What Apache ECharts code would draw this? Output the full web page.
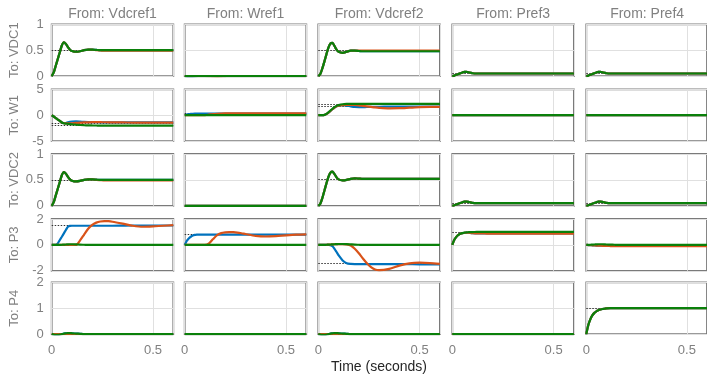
<!DOCTYPE html>
<html>
<head>
<meta charset="utf-8">
<script src="https://cdn.jsdelivr.net/npm/echarts@6/dist/echarts.min.js"></script>
<style>
  html, body { margin: 0; padding: 0; background: #ffffff; }
  #chart { width: 707px; height: 375px; }
</style>
</head>
<body>
<div id="chart"></div>
<script>
// Sample times (seconds)
const T = [0, 0.01, 0.02, 0.03, 0.04, 0.05, 0.06, 0.07, 0.08, 0.09, 0.10,
           0.12, 0.14, 0.16, 0.18, 0.20, 0.22, 0.24, 0.26, 0.28, 0.30,
           0.35, 0.40, 0.45, 0.50, 0.55, 0.60];

const inputNames  = ['Vdcref1', 'Wref1', 'Vdcref2', 'Pref3', 'Pref4'];
const outputNames = ['VDC1', 'W1', 'VDC2', 'P3', 'P4'];

const xTickStep = 0.5;
const xMax = 0.6;
const yMin  = [0, -5, 0, -2, 0];
const yMax  = [1,  5, 1,  2, 2];
const yStep = [0.5, 5, 0.5, 2, 1];

// ---- step responses ----
const zero = [0,0,0,0,0,0,0,0,0,0,0, 0,0,0,0,0,0,0,0,0,0, 0,0,0,0,0,0];

const vdc1_g = [0,0.07,0.2,0.33,0.46,0.59,0.65,0.62,0.56,0.51,0.485, 0.47,0.48,0.50,0.51,0.51,0.505,0.50,0.50,0.50,0.50, 0.50,0.50,0.50,0.50,0.50,0.50];
const vdc1_o = [0,0.07,0.2,0.33,0.46,0.59,0.65,0.62,0.56,0.51,0.485, 0.47,0.48,0.50,0.51,0.51,0.50,0.495,0.49,0.49,0.49, 0.49,0.49,0.49,0.49,0.49,0.49];

const w1ref_b = [0,-0.01,-0.02,-0.02,-0.015,-0.01,-0.005,0,0,0,0, 0,0,0,0,0,0,0,0,0,0, 0,0,0,0,0,0];
const w1ref_o = [0,0,0,0,0,0,0,0,0,0,0, -0.005,-0.012,-0.015,-0.01,-0.005,0,0,0,0,0, 0,0,0,0,0,0];

const vdc2x1_g = [0,0.04,0.15,0.28,0.42,0.55,0.63,0.64,0.58,0.51,0.47, 0.45,0.47,0.49,0.49,0.485,0.48,0.48,0.48,0.48,0.48, 0.48,0.48,0.48,0.48,0.48,0.48];
const vdc2x1_o = [0,0.04,0.15,0.28,0.42,0.55,0.63,0.64,0.58,0.51,0.47, 0.45,0.47,0.49,0.49,0.49,0.49,0.49,0.49,0.49,0.49, 0.49,0.49,0.49,0.49,0.49,0.49];

const pBump = [0,0.01,0.025,0.04,0.055,0.07,0.08,0.08,0.075,0.065,0.055, 0.05,0.05,0.05,0.05,0.05,0.05,0.05,0.05,0.05,0.05, 0.05,0.05,0.05,0.05,0.05,0.05];

const w1vdc_g = [0,-0.25,-0.55,-0.85,-1.12,-1.4,-1.55,-1.62,-1.67,-1.72,-1.76, -1.83,-1.89,-1.93,-1.96,-1.98,-1.99,-2,-2,-2,-2, -2,-2,-2,-2,-2,-2];
const w1vdc_b = [0,-0.25,-0.55,-0.85,-1.12,-1.4,-1.55,-1.5,-1.38,-1.28,-1.22, -1.2,-1.24,-1.3,-1.33,-1.35,-1.36,-1.37,-1.38,-1.38,-1.38, -1.38,-1.38,-1.38,-1.38,-1.38,-1.38];
const w1vdc_o = [0,-0.25,-0.55,-0.85,-1.12,-1.4,-1.55,-1.58,-1.58,-1.57,-1.55, -1.5,-1.45,-1.4,-1.37,-1.35,-1.35,-1.35,-1.36,-1.37,-1.38, -1.4,-1.42,-1.42,-1.42,-1.42,-1.42];

const w1w_b = [0,0.12,0.2,0.25,0.28,0.3,0.31,0.32,0.32,0.32,0.32, 0.32,0.32,0.32,0.32,0.32,0.32,0.32,0.32,0.32,0.32, 0.32,0.32,0.32,0.32,0.32,0.32];
const w1w_o = [0,0,0,0,0,0,0,0,0,0,0.02, 0.12,0.22,0.28,0.32,0.34,0.35,0.36,0.36,0.36,0.36, 0.36,0.36,0.36,0.36,0.36,0.36];

const w1v2_g = [0,0,0,0.06,0.25,0.55,0.9,1.25,1.55,1.8,1.95, 2.12,2.18,2.2,2.2,2.2,2.2,2.2,2.2,2.2,2.2, 2.2,2.2,2.2,2.2,2.2,2.2];
const w1v2_b = [0,0,0,0.05,0.22,0.5,0.82,1.15,1.45,1.7,1.85, 1.95,1.85,1.7,1.58,1.55,1.56,1.58,1.6,1.62,1.63, 1.65,1.65,1.65,1.65,1.65,1.65];
const w1v2_o = [0,0,0,0.05,0.22,0.5,0.82,1.15,1.45,1.7,1.85, 1.95,2.0,2.0,1.97,1.9,1.8,1.7,1.6,1.5,1.42, 1.32,1.35,1.45,1.55,1.6,1.6];

const vdc2x2_g = [0,0.04,0.15,0.29,0.43,0.56,0.64,0.66,0.61,0.55,0.51, 0.49,0.5,0.52,0.53,0.525,0.52,0.52,0.52,0.52,0.52, 0.52,0.52,0.52,0.52,0.52,0.52];

const p3v1_b = [0,0,0,0.12,0.38,0.63,0.89,1.15,1.4,1.47,1.48, 1.48,1.48,1.48,1.48,1.48,1.48,1.48,1.48,1.48,1.48, 1.49,1.5,1.5,1.5,1.5,1.5];
const p3v1_o = [0,0,0,0,0,0,0,0,0,0,0, 0,0.35,0.8,1.25,1.55,1.72,1.81,1.84,1.83,1.79, 1.64,1.48,1.4,1.43,1.48,1.52];
const p3v1_g = [0,0,0,0,0,0.01,0.02,0.03,0.04,0.05,0.05, 0.04,0.02,0.01,0,0,0,0,0,0,0, 0,0,0,0,0,0];

const p3w_b = [0,0.3,0.5,0.63,0.72,0.77,0.79,0.8,0.8,0.8,0.8, 0.8,0.8,0.8,0.8,0.8,0.8,0.8,0.8,0.8,0.8, 0.8,0.8,0.8,0.8,0.8,0.8];
const p3w_o = [0,0,0,0,0,0,0,0,0,0,0, 0.12,0.45,0.75,0.91,0.97,0.99,0.98,0.95,0.9,0.84, 0.7,0.65,0.68,0.74,0.79,0.81];

const p3v2_b = [0,0,0,0,0,0,-0.02,-0.1,-0.3,-0.55,-0.8, -1.2,-1.42,-1.47,-1.48,-1.48,-1.48,-1.48,-1.48,-1.48,-1.48, -1.48,-1.48,-1.49,-1.5,-1.5,-1.5];
const p3v2_o = [0,0,0,0,0.01,0.02,0.03,0.04,0.05,0.06,0.06, 0.06,0.04,-0.05,-0.3,-0.65,-1.05,-1.42,-1.72,-1.9,-1.95, -1.85,-1.6,-1.42,-1.37,-1.4,-1.47];
const p3v2_g = [0,0,0,0,0.01,0.02,0.03,0.04,0.05,0.06,0.07, 0.07,0.06,0.04,0.02,0.01,0,0,0,0,0, 0,0,0,0,0,0];

const p3p3_g = [0,0.4,0.62,0.77,0.86,0.91,0.95,0.97,0.98,0.99,0.99, 1.0,1.0,1.0,1.0,1.0,1.0,1.0,1.0,1.0,1.0, 1.0,1.0,1.0,1.0,1.0,1.0];
const p3p3_b = [0,0.4,0.62,0.77,0.86,0.91,0.94,0.95,0.94,0.92,0.9, 0.88,0.88,0.88,0.88,0.88,0.88,0.88,0.88,0.88,0.88, 0.88,0.88,0.88,0.88,0.88,0.88];
const p3p3_o = [0,0.4,0.62,0.77,0.86,0.91,0.94,0.95,0.94,0.92,0.9, 0.89,0.88,0.88,0.87,0.87,0.87,0.87,0.87,0.87,0.87, 0.87,0.87,0.87,0.87,0.87,0.87];

const p3p4_g = [0,0,0.01,0.02,0.03,0.04,0.05,0.05,0.05,0.04,0.03, 0.02,0.01,0,0,0,0,0,0,0,0, 0,0,0,0,0,0];
const p3p4_b = [0,-0.01,-0.02,-0.03,-0.04,-0.05,-0.05,-0.05,-0.06,-0.06,-0.06, -0.07,-0.08,-0.08,-0.08,-0.08,-0.08,-0.08,-0.08,-0.08,-0.08, -0.08,-0.08,-0.08,-0.08,-0.08,-0.08];
const p3p4_o = [0,-0.01,-0.02,-0.03,-0.04,-0.05,-0.05,-0.06,-0.07,-0.08,-0.08, -0.09,-0.1,-0.1,-0.1,-0.1,-0.1,-0.1,-0.1,-0.1,-0.1, -0.1,-0.1,-0.1,-0.1,-0.1,-0.1];

const p4wiggle = [0,-0.02,-0.03,-0.03,-0.02,0,0.02,0.03,0.04,0.04,0.03, 0.02,0.01,0,0,0,0,0,0,0,0, 0,0,0,0,0,0];
const p4p4_g = [0,0.35,0.57,0.72,0.82,0.88,0.92,0.95,0.97,0.98,0.99, 1.0,1.0,1.0,1.0,1.0,1.0,1.0,1.0,1.0,1.0, 1.0,1.0,1.0,1.0,1.0,1.0];

// [output][input] -> blue, orange, green responses and steady-state levels
const cells = [
  [ {b: vdc1_g, o: vdc1_o, g: vdc1_g, ss: [0.5]},
    {b: w1ref_b, o: w1ref_o, g: zero, ss: []},
    {b: vdc2x1_g, o: vdc2x1_o, g: vdc2x1_g, ss: [0.49]},
    {b: pBump, o: pBump, g: pBump, ss: [0.05]},
    {b: pBump, o: pBump, g: pBump, ss: [0.05]} ],
  [ {b: w1vdc_b, o: w1vdc_o, g: w1vdc_g, ss: [-1.6, -2.0]},
    {b: w1w_b, o: w1w_o, g: zero, ss: [0.32]},
    {b: w1v2_b, o: w1v2_o, g: w1v2_g, ss: [1.65, 2.2]},
    {b: zero, o: zero, g: zero, ss: []},
    {b: zero, o: zero, g: zero, ss: []} ],
  [ {b: vdc1_g, o: vdc1_o, g: vdc1_g, ss: [0.5]},
    {b: zero, o: zero, g: zero, ss: []},
    {b: vdc2x2_g, o: vdc2x2_g, g: vdc2x2_g, ss: [0.51]},
    {b: pBump, o: pBump, g: pBump, ss: [0.05]},
    {b: pBump, o: pBump, g: pBump, ss: [0.05]} ],
  [ {b: p3v1_b, o: p3v1_o, g: p3v1_g, ss: [1.55]},
    {b: p3w_b, o: p3w_o, g: zero, ss: [0.8]},
    {b: p3v2_b, o: p3v2_o, g: p3v2_g, ss: [-1.45]},
    {b: p3p3_b, o: p3p3_o, g: p3p3_g, ss: [0.96]},
    {b: p3p4_b, o: p3p4_o, g: p3p4_g, ss: [-0.05]} ],
  [ {b: p4wiggle, o: zero, g: p4wiggle, ss: []},
    {b: zero, o: zero, g: zero, ss: []},
    {b: p4wiggle, o: zero, g: p4wiggle, ss: []},
    {b: zero, o: zero, g: zero, ss: []},
    {b: p4p4_g, o: p4p4_g, g: p4p4_g, ss: [1.0]} ]
];

// ---- layout ----
const colLeft = [51.7, 184.7, 318.3, 452.3, 586.3];
const rowTop  = [24.3, 89.3, 154, 219, 282.3];
const cellW = 121.6, cellH = 51.8;

const FONT = '"Liberation Sans", Arial, Helvetica, sans-serif';
const tickColor = '#808080';
const colors = { b: '#0072BD', o: '#D95319', g: '#0a800a' };

const grid = [], xAxis = [], yAxis = [], series = [], graphic = [];

for (let r = 0; r < 5; r++) {
  for (let c = 0; c < 5; c++) {
    const k = r * 5 + c;
    grid.push({
      left: colLeft[c], top: rowTop[r], width: cellW, height: cellH,
      show: true, borderColor: '#7a7a7a', borderWidth: 1.8,
      backgroundColor: 'transparent'
    });
    xAxis.push({
      type: 'value', gridIndex: k, min: 0, max: xMax, interval: xTickStep,
      axisLine: { show: false }, axisTick: { show: false },
      axisLabel: {
        show: r === 4, showMaxLabel: false, margin: 10,
        color: tickColor, fontSize: 13, fontFamily: FONT
      },
      splitLine: { show: true, lineStyle: { color: '#e0e0e0', width: 1 } }
    });
    yAxis.push({
      type: 'value', gridIndex: k, min: yMin[r], max: yMax[r], interval: yStep[r],
      axisLine: { show: false }, axisTick: { show: false },
      axisLabel: {
        show: c === 0, margin: 8,
        color: tickColor, fontSize: 13, fontFamily: FONT
      },
      splitLine: { show: true, lineStyle: { color: '#e0e0e0', width: 1 } }
    });

    const cell = cells[r][c];
    ['b', 'o', 'g'].forEach((key, idx) => {
      const s = {
        type: 'line', xAxisIndex: k, yAxisIndex: k,
        data: T.map((t, i) => [t, cell[key][i]]),
        showSymbol: false, smooth: 0.25, z: 3 + idx,
        lineStyle: { color: colors[key], width: 2.2 },
        itemStyle: { color: colors[key] },
        silent: true, animation: false
      };
      if (idx === 0 && cell.ss.length) {
        s.markLine = {
          silent: true, symbol: ['none', 'none'], z: 2,
          label: { show: false },
          lineStyle: { color: '#333333', type: [1.5, 1.5], width: 1 },
          data: cell.ss.map(v => ({ yAxis: v }))
        };
      }
      series.push(s);
    });
  }
}

// column headings
inputNames.forEach((name, c) => {
  graphic.push({
    type: 'text', x: colLeft[c] + cellW / 2, y: 14,
    style: {
      text: 'From: ' + name, fill: tickColor, font: '14px ' + FONT,
      textAlign: 'center', textVerticalAlign: 'middle'
    }
  });
});
// row headings
outputNames.forEach((name, r) => {
  graphic.push({
    type: 'text', x: 14.5, y: rowTop[r] + cellH / 2, rotation: Math.PI / 2,
    style: {
      text: 'To: ' + name, fill: tickColor, font: '13px ' + FONT,
      textAlign: 'center', textVerticalAlign: 'middle'
    }
  });
});
// x-axis title
graphic.push({
  type: 'text', x: 379, y: 367,
  style: {
    text: 'Time (seconds)', fill: '#262626', font: '14px ' + FONT,
    textAlign: 'center', textVerticalAlign: 'middle'
  }
});

const chart = echarts.init(document.getElementById('chart'), null, { renderer: 'canvas' });
chart.setOption({
  animation: false,
  backgroundColor: '#ffffff',
  grid, xAxis, yAxis, series, graphic
});
</script>
</body>
</html>
